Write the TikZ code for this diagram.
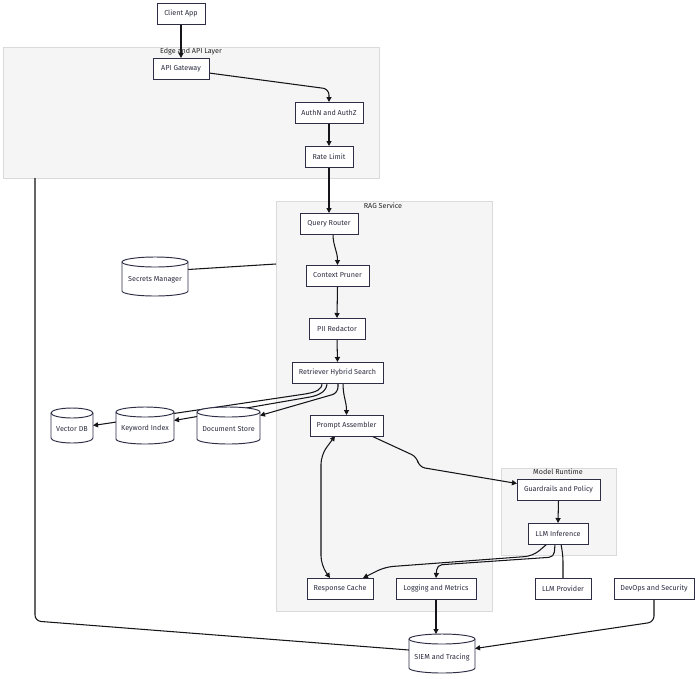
\documentclass[tikz,border=0pt]{standalone}
\usepackage{fontspec}
\setmainfont{Fira Sans}
\usetikzlibrary{arrows.meta,calc}
\definecolor{nborder}{RGB}{45,45,70}
\definecolor{ntext}{RGB}{45,45,65}
\definecolor{cfill}{RGB}{245,245,245}
\definecolor{cborder}{RGB}{218,218,218}
\definecolor{ecol}{RGB}{20,20,25}
\pgfdeclarelayer{bg}
\pgfdeclarelayer{edges}
\pgfdeclarelayer{nodebg}
\pgfsetlayers{bg,edges,nodebg,main}
\tikzset{
  box/.style={draw=nborder, line width=0.95pt, fill=white, text=ntext,
    font=\fontsize{7.2}{8}\selectfont, inner sep=0pt, outer sep=0pt, minimum height=21pt},
  dbbox/.style={inner sep=0pt, outer sep=0pt},
  dbtext/.style={text=ntext, font=\fontsize{7.2}{8}\selectfont, inner sep=0pt},
  cylshape/.style={draw=nborder, line width=0.95pt, fill=white},
  cluster/.style={draw=cborder, line width=0.8pt, fill=cfill, inner sep=0pt, outer sep=0pt, anchor=north west},
  clabel/.style={text=black!85, font=\fontsize{7.2}{8}\selectfont, inner sep=0pt},
  edge/.style={draw=ecol, line width=1.05pt, -{Triangle[length=5pt,width=5pt]}},
  link/.style={draw=ecol, line width=1.05pt},
}
\newcommand{\dbnode}[6]{%
  \node[dbbox, minimum width=#4pt, minimum height=#5pt] (#1) at (#2,#3) {};
  \node[dbtext] (#1-t) at ([yshift=-3.5pt]#1.center) {#6};
  \begin{pgfonlayer}{nodebg}
    \path[cylshape] ([yshift=-5pt]#1.north west) -- ([yshift=5pt]#1.south west)
      arc[start angle=180, end angle=360, x radius={#4pt/2}, y radius=5pt]
      -- ([yshift=-5pt]#1.north east)
      arc[start angle=0, end angle=180, x radius={#4pt/2}, y radius=5pt] -- cycle;
    \draw[draw=nborder, line width=0.95pt] ([yshift=-5pt]#1.north west)
      arc[start angle=180, end angle=360, x radius={#4pt/2}, y radius=5pt];
  \end{pgfonlayer}}
\begin{document}
\begin{tikzpicture}[x=1pt, y=-1pt]
\useasboundingbox (0,0) rectangle (700,678);
% clusters
\begin{pgfonlayer}{bg}
  \node[cluster, minimum width=376pt, minimum height=131pt] (edgecl) at (3,47) {};
  \node[cluster, minimum width=216pt, minimum height=410pt] (ragcl) at (276,201) {};
  \node[cluster, minimum width=115pt, minimum height=87pt] (modelcl) at (501,468) {};
\end{pgfonlayer}
\node[clabel] (edgelbl) at (191,52) {Edge and API Layer};
\node[clabel] (raglbl) at (383,206) {RAG Service};
\node[clabel] (modellbl) at (558,472) {Model Runtime};
% nodes
\node[box, minimum width=48pt] (client) at (181,13.5) {Client App};
\node[box, minimum width=56pt] (api) at (181,68.5) {API Gateway};
\node[box, minimum width=68pt] (auth) at (329,112.5) {AuthN and AuthZ};
\node[box, minimum width=48pt] (rate) at (329,156.5) {Rate Limit};
\node[box, minimum width=58pt] (query) at (329,223.5) {Query Router};
\node[box, minimum width=63pt] (pruner) at (337.5,275.5) {Context Pruner};
\node[box, minimum width=56pt] (pii) at (337,328.5) {PII Redactor};
\node[box, minimum width=91pt] (retr) at (337.5,372.5) {Retriever Hybrid Search};
\node[box, minimum width=73pt] (prompt) at (346.5,425.5) {Prompt Assembler};
\node[box, minimum width=83pt] (guard) at (558.5,489.5) {Guardrails and Policy};
\node[box, minimum width=60pt] (llm) at (558,533.5) {LLM Inference};
\node[box, minimum width=66pt] (cache) at (340,588.5) {Response Cache};
\node[box, minimum width=80pt] (logging) at (436,588.5) {Logging and Metrics};
\node[box, minimum width=56pt] (provider) at (563,588.5) {LLM Provider};
\node[box, minimum width=80pt] (devops) at (654,588.5) {DevOps and Security};
\dbnode{secrets}{155}{276.5}{66}{39}{Secrets Manager}
\dbnode{vector}{72}{425.5}{42}{35}{Vector DB}
\dbnode{keyword}{145}{425.5}{58}{37}{Keyword Index}
\dbnode{docstore}{228.5}{425.5}{63}{37}{Document Store}
\dbnode{siem}{442}{653.5}{66}{39}{SIEM and Tracing}
% edges
\begin{pgfonlayer}{edges}
  \draw[edge] (client.south) -- (api.north);
  \draw[edge, rounded corners=6pt] ([yshift=-4.5pt]api.east) -- (329,89) -- (auth.north);
  \draw[edge] (auth.south) -- (rate.north);
  \draw[edge] (rate.south) -- (query.north);
  \draw[edge] ([xshift=4pt]query.south) .. controls +(0,12) and +(0,-14) .. (pruner.north);
  \draw[edge] (pruner.south) -- (pii.north);
  \draw[edge] (pii.south) -- (retr.north);
  \draw[edge] ([xshift=5.5pt]retr.south) .. controls +(0,14) and +(0,-14) .. (prompt.north);
  \draw[edge] ([xshift=-15.5pt]retr.south) .. controls +(0,7) and (316,392) .. (305,394) -- (vector.east);
  \draw[edge] ([xshift=-10.5pt]retr.south) .. controls +(0,8) and (320,395) .. (310,397) -- ([yshift=5pt]keyword.east);
  \draw[edge, rounded corners=6pt] ([xshift=0.5pt]retr.south) -- (338,393) -- ([yshift=10pt]docstore.east);
  \draw[link, {Triangle[length=5pt,width=5pt]}-{Triangle[length=5pt,width=5pt]}, rounded corners=9pt]
    ([xshift=-11.5pt]prompt.south) -- (321,455) -- (321,565) -- ([xshift=-10pt]cache.north);
  \draw[edge, rounded corners=6pt] ([xshift=25pt]prompt.south) -- (417,457) -- (419,467) -- ([yshift=6pt]guard.west);
  \draw[edge] (guard.south) -- (llm.north);
  \draw[edge, rounded corners=8pt] ([xshift=-11pt]llm.south) -- (533,556) -- (385,567) -- ([xshift=23pt]cache.north);
  \draw[edge, rounded corners=5pt] ([xshift=-3pt]llm.south) -- (554,557) -- (437,565) -- (logging.north);
  \draw[link, rounded corners=6pt] ([xshift=3pt]llm.south) -- (563,556) -- (provider.north);
  \draw[edge] (logging.south) -- (logging.south |- siem.north);
  \draw[edge, rounded corners=6pt] (devops.south) -- (654,622) -- ([yshift=5pt]siem.east);
  \draw[link, rounded corners=6pt] (35,0 |- edgecl.south) -- (35,621) -- ([yshift=3.5pt]siem.west);
  \draw[link] ([yshift=7pt]secrets.east) -- (ragcl.west |- 0,264);
\end{pgfonlayer}
\end{tikzpicture}
\end{document}
